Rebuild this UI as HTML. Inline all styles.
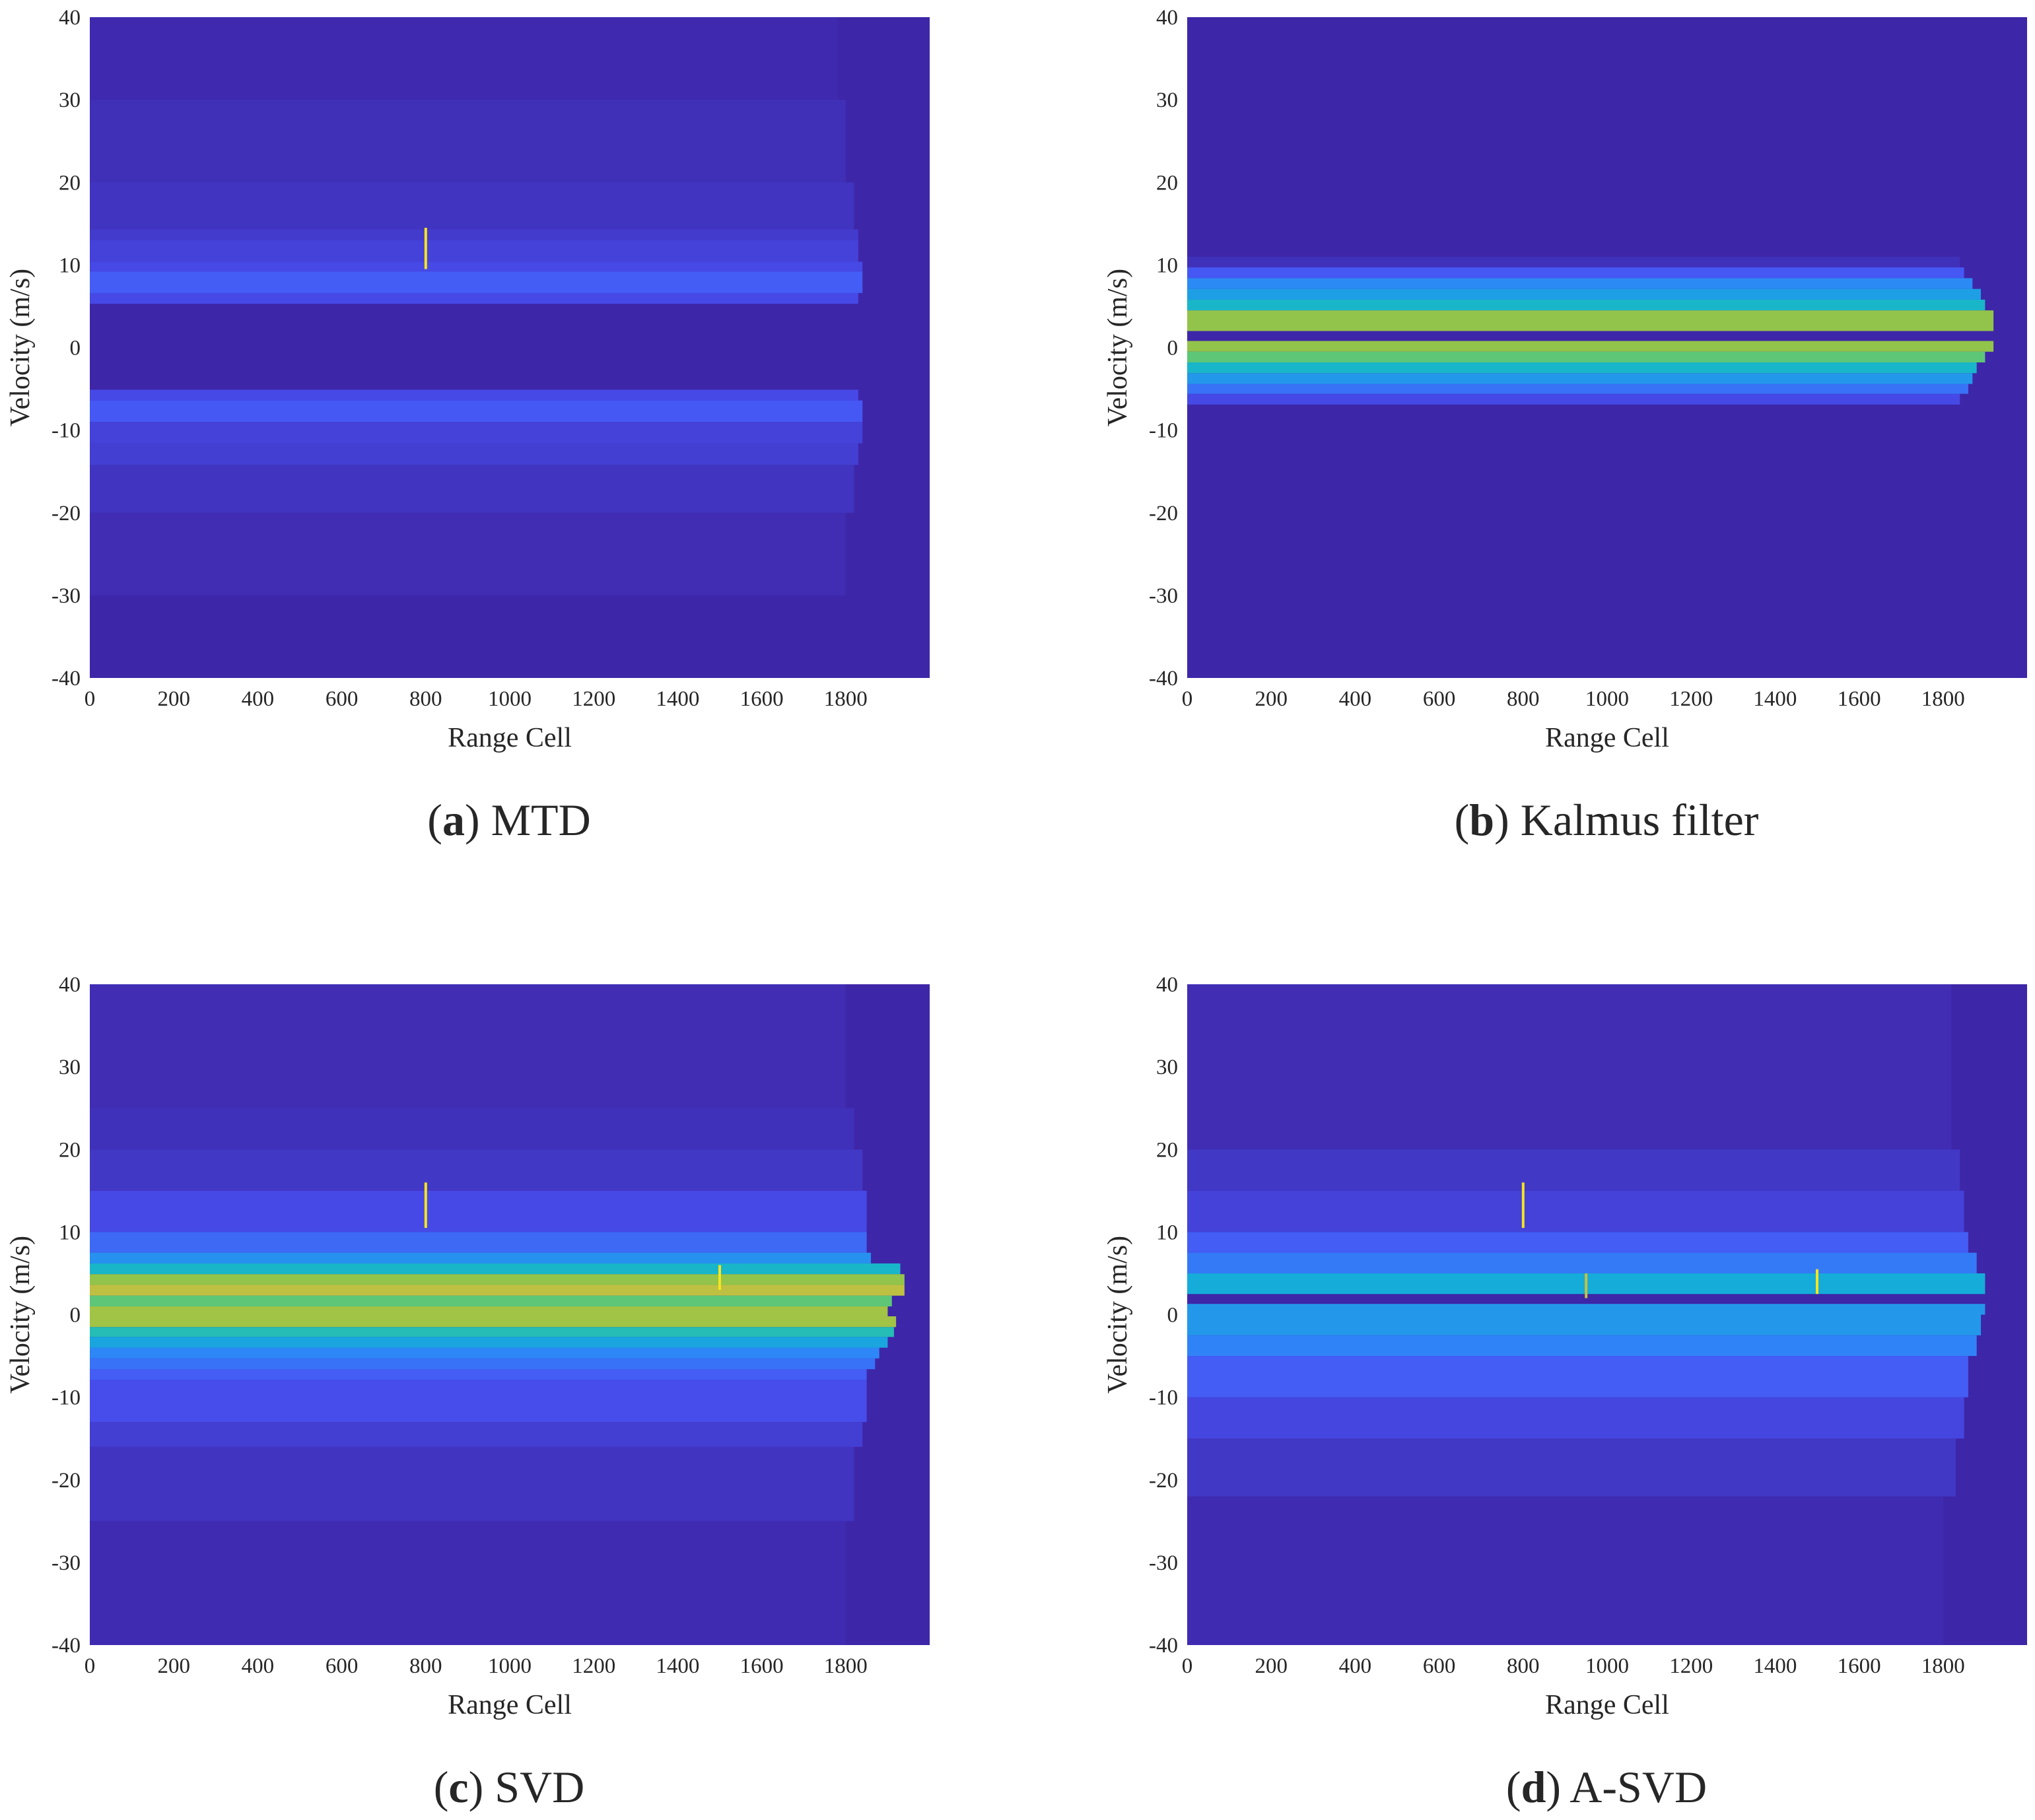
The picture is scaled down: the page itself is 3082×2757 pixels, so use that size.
<!DOCTYPE html>
<html><head><meta charset="utf-8">
<style>
html,body{margin:0;padding:0;background:#fff;}
svg{display:block;}
text{font-family:"Liberation Serif",serif;fill:#262626;}
</style></head>
<body>
<svg id="fig" width="3082" height="2757" viewBox="0 0 3082 2757" xmlns="http://www.w3.org/2000/svg"></svg>
<script>
// ---- data: velocity bands (low, high m/s), mean intensity (0..1), max range cell ----
const aBandLow  = [30,20,14.3,13,10.4,9.2,6.6,5.3,-6.4,-9,-11.6,-14.2,-20,-30];
const aBandHigh = [40,30,20,14.3,13,10.4,9.2,6.6,-5.1,-6.4,-9,-11.6,-14.2,-20];
const aBandLevel= [0.012,0.025,0.04,0.06,0.08,0.1,0.15,0.1,0.1,0.14,0.08,0.07,0.04,0.02];
const aBandExt  = [1780,1800,1820,1830,1830,1840,1840,1830,1830,1840,1840,1830,1820,1800];

const bBandLow  = [9.7,8.4,7.1,5.8,4.5,2.0,-0.5,-1.8,-3.1,-4.4,-5.6,-6.9];
const bBandHigh = [11,9.7,8.4,7.1,5.8,4.5,0.8,-0.5,-1.8,-3.1,-4.4,-5.6];
const bBandLevel= [0.03,0.14,0.26,0.32,0.4,0.62,0.62,0.55,0.4,0.3,0.2,0.1];
const bBandExt  = [1840,1850,1870,1890,1900,1920,1920,1900,1880,1870,1860,1840];

const cBandLow  = [25,20,15,10,7.5,6.2,4.9,3.6,2.3,1.0,-0.2,-1.5,-2.7,-4,-5.3,-6.6,-7.9,-13,-16,-25];
const cBandHigh = [40,25,20,15,10,7.5,6.2,4.9,3.6,2.3,1.0,-0.2,-1.5,-2.7,-4,-5.3,-6.6,-7.9,-13,-16];
const cBandLevel= [0.02,0.03,0.05,0.1,0.18,0.28,0.4,0.62,0.68,0.55,0.64,0.64,0.44,0.34,0.25,0.2,0.15,0.11,0.07,0.04];
const cBandExt  = [1800,1820,1840,1850,1850,1860,1930,1940,1940,1910,1900,1920,1915,1900,1880,1870,1850,1850,1840,1820];
const cBottomLevel = 0.015;

const dBandLow  = [20,15,10,7.5,5,2.5,0,-2.5,-5,-10,-15,-22];
const dBandHigh = [40,20,15,10,7.5,5,1.3,0,-2.5,-5,-10,-15];
const dBandLevel= [0.02,0.05,0.08,0.15,0.22,0.36,0.3,0.3,0.24,0.15,0.09,0.05];
const dBandExt  = [1820,1840,1850,1860,1880,1900,1900,1890,1880,1860,1850,1830];
const dBottomLevel = 0.015;

// targets: range cell, v low, v high
const aTargetRange=[800], aTargetLow=[9.5], aTargetHigh=[14.5];
const cTargetRange=[800,1500], cTargetLow=[10.5,3], cTargetHigh=[16,6];
const dTargetRange=[800,1500,950], dTargetLow=[10.5,2.5,2], dTargetHigh=[16,5.5,5];

const xTicks=[0,200,400,600,800,1000,1200,1400,1600,1800];
const yTicks=[-40,-30,-20,-10,0,10,20,30,40];
const captionLetters=["a","b","c","d"];
const captionNames=["MTD","Kalmus filter","SVD","A-SVD"];

// ---- drawing ----
const NS="http://www.w3.org/2000/svg";
const svg=document.getElementById('fig');
const parula=[[0,62,38,168],[0.125,72,82,244],[0.25,46,135,247],[0.375,18,177,214],[0.5,55,200,151],[0.625,150,196,72],[0.75,240,186,58],[0.875,250,208,45],[1,249,251,21]];
function col(t){t=Math.max(0,Math.min(1,t));for(let i=1;i<parula.length;i++){if(t<=parula[i][0]){const a=parula[i-1],b=parula[i];const f=(t-a[0])/(b[0]-a[0]);return `rgb(${Math.round(a[1]+f*(b[1]-a[1]))},${Math.round(a[2]+f*(b[2]-a[2]))},${Math.round(a[3]+f*(b[3]-a[3]))})`;}}return 'rgb(249,251,21)';}
function el(tag,attrs,parent){const e=document.createElementNS(NS,tag);for(const k in attrs)e.setAttribute(k,attrs[k]);parent.appendChild(e);return e;}

const panels=[
 {x0:136,y0:26,low:aBandLow,high:aBandHigh,lev:aBandLevel,ext:aBandExt,tr:aTargetRange,tl:aTargetLow,th:aTargetHigh,cap:[771,1265]},
 {x0:1798,y0:26,low:bBandLow,high:bBandHigh,lev:bBandLevel,ext:bBandExt,tr:[],tl:[],th:[],cap:[2433,1265]},
 {x0:136,y0:1491,low:cBandLow,high:cBandHigh,lev:cBandLevel,ext:cBandExt,tr:cTargetRange,tl:cTargetLow,th:cTargetHigh,bottom:cBottomLevel,cap:[771,2730]},
 {x0:1798,y0:1491,low:dBandLow,high:dBandHigh,lev:dBandLevel,ext:dBandExt,tr:dTargetRange,tl:dTargetLow,th:dTargetHigh,bottom:dBottomLevel,cap:[2433,2730]}
];
const W=1272,H=1001;
panels.forEach((p,pi)=>{
  const g=el('g',{},svg);
  
  
  const xs=r=>p.x0+r/2000*W;
  const ys=v=>p.y0+(40-v)/80*H;
  const bg=el('rect',{x:p.x0,y:p.y0,width:W,height:H,fill:col(0)},g);
  
  
  for(let i=0;i<p.low.length;i++){
    const r=el('rect',{x:xs(0),y:ys(p.high[i]),width:xs(p.ext[i])-xs(0),height:ys(p.low[i])-ys(p.high[i]),fill:col(p.lev[i])},g);
    
    
  }
  if(p.bottom!==undefined){
    const mn=Math.min(...p.low);
    const r=el('rect',{x:xs(0),y:ys(mn),width:xs(1800)-xs(0),height:ys(-40)-ys(mn),fill:col(p.bottom)},g);
    
    
  }
  for(let i=0;i<p.tr.length;i++){
    const t=el('rect',{x:xs(p.tr[i])-2,y:ys(p.th[i]),width:4,height:ys(p.tl[i])-ys(p.th[i]),fill:i==2?'#c8c040':'#f5e51e'},g);
    
    
  }
  xTicks.forEach(v=>{
    const t=el('text',{x:xs(v),y:p.y0+H+42,'font-size':33,'text-anchor':'middle'},g);t.textContent=v;
    
    
  });
  yTicks.forEach(v=>{
    const t=el('text',{x:p.x0-14,y:ys(v)+11,'font-size':33,'text-anchor':'end'},g);t.textContent=v;
    
    
  });
  const xl=el('text',{x:p.x0+W/2,y:p.y0+H+104,'font-size':42,'text-anchor':'middle'},g);xl.textContent='Range Cell';
  
  
  const yl=el('text',{x:0,y:0,'font-size':42,'text-anchor':'middle',transform:`translate(${p.x0-92},${p.y0+H/2}) rotate(-90)`},g);yl.textContent='Velocity (m/s)';
  
  
  const cp=el('text',{x:p.cap[0],y:p.cap[1],'font-size':68,'text-anchor':'middle'},g);
  cp.innerHTML=`(<tspan font-weight="bold">${captionLetters[pi]}</tspan>) ${captionNames[pi]}`;
  
  
});
</script>
</body></html>
